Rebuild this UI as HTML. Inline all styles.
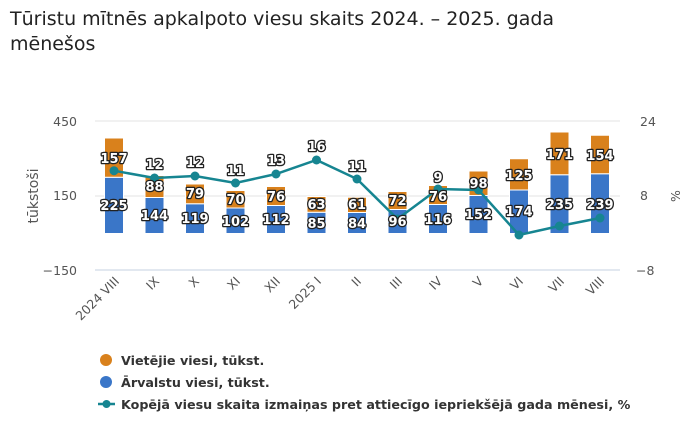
<!DOCTYPE html>
<html><head><meta charset="utf-8"><style>
body{margin:0;background:#fff;}
svg{display:block;font-family:"DejaVu Sans","Liberation Sans",sans-serif;}
.lb{font-weight:bold;font-size:13px;fill:#fff;stroke:#222;stroke-width:2.6px;paint-order:stroke;stroke-linejoin:round;text-anchor:middle;}
.ax{font-size:12.5px;fill:#555;}
</style></head><body>
<svg width="700" height="428" viewBox="0 0 700 428">
<text x="10" y="25" font-size="19" fill="#222">Tūristu mītnēs apkalpoto viesu skaits 2024. – 2025. gada</text>
<text x="10" y="50" font-size="19" fill="#222">mēnešos</text>
<line x1="95" x2="620" y1="121" y2="121" stroke="#e3e3e3"/>
<line x1="95" x2="620" y1="196" y2="196" stroke="#e3e3e3"/>
<line x1="95" x2="620" y1="270" y2="270" stroke="#c6d2e2"/>
<g class="ax" text-anchor="end"><text x="77" y="126">450</text><text x="77" y="200">150</text><text x="77" y="275">−150</text></g>
<g class="ax"><text x="640" y="126">24</text><text x="640" y="200">8</text><text x="636" y="275">−8</text></g>
<text transform="translate(38,196) rotate(-90)" class="ax" font-size="14" style="font-size:14px" text-anchor="middle">tūkstoši</text>
<text transform="translate(680,196) rotate(-90)" class="ax" text-anchor="middle">%</text>
<g stroke="#fff" stroke-width="1">
<g fill="#3a76c8">
<rect x="104.5" y="177.25" width="19" height="56.25"/><rect x="145" y="197.5" width="19" height="36"/><rect x="185.5" y="203.75" width="19" height="29.75"/><rect x="226" y="208" width="19" height="25.5"/><rect x="266.5" y="205.5" width="19" height="28"/><rect x="307" y="212.25" width="19" height="21.25"/><rect x="347.5" y="212.5" width="19" height="21"/><rect x="388" y="209.5" width="19" height="24"/><rect x="428.5" y="204.5" width="19" height="29"/><rect x="469" y="195.5" width="19" height="38"/><rect x="509.5" y="190" width="19" height="43.5"/><rect x="550" y="174.75" width="19" height="58.75"/><rect x="590.5" y="173.75" width="19" height="59.75"/>
</g>
<g fill="#d9811c">
<rect x="104.5" y="138" width="19" height="39.25"/><rect x="145" y="175.5" width="19" height="22"/><rect x="185.5" y="184" width="19" height="19.75"/><rect x="226" y="190.5" width="19" height="17.5"/><rect x="266.5" y="186.5" width="19" height="19"/><rect x="307" y="196.5" width="19" height="15.75"/><rect x="347.5" y="197.25" width="19" height="15.25"/><rect x="388" y="191.5" width="19" height="18"/><rect x="428.5" y="185.5" width="19" height="19"/><rect x="469" y="171" width="19" height="24.5"/><rect x="509.5" y="158.75" width="19" height="31.25"/><rect x="550" y="132" width="19" height="42.75"/><rect x="590.5" y="135.25" width="19" height="38.5"/>
</g></g>
<polyline fill="none" stroke="#168591" stroke-width="2.5" points="114,170.7 154.5,178 195,176 235.5,183 276,174 316.5,160 357,179 397.5,219 438,189 478.5,190 519,235 559.5,226 600,218"/>
<g fill="#168591">
<circle cx="114" cy="170.7" r="4.5"/><circle cx="154.5" cy="178" r="4.5"/><circle cx="195" cy="176" r="4.5"/><circle cx="235.5" cy="183" r="4.5"/><circle cx="276" cy="174" r="4.5"/><circle cx="316.5" cy="160" r="4.5"/><circle cx="357" cy="179" r="4.5"/><circle cx="397.5" cy="219" r="4.5"/><circle cx="438" cy="189" r="4.5"/><circle cx="478.5" cy="190" r="4.5"/><circle cx="519" cy="235" r="4.5"/><circle cx="559.5" cy="226" r="4.5"/><circle cx="600" cy="218" r="4.5"/>
</g>
<g class="lb">
<text x="114" y="210">225</text><text x="154.5" y="220">144</text><text x="195" y="223">119</text><text x="235.5" y="226">102</text><text x="276" y="224">112</text><text x="316.5" y="228">85</text><text x="357" y="228">84</text><text x="397.5" y="226">96</text><text x="438" y="224">116</text><text x="478.5" y="219">152</text><text x="519" y="216">174</text><text x="559.5" y="209">235</text><text x="600" y="209">239</text>
<text x="114" y="163">157</text><text x="154.5" y="191">88</text><text x="195" y="198">79</text><text x="235.5" y="204">70</text><text x="276" y="201">76</text><text x="316.5" y="209">63</text><text x="357" y="209">61</text><text x="397.5" y="205">72</text><text x="438" y="201">76</text><text x="478.5" y="188">98</text><text x="519" y="180">125</text><text x="559.5" y="159">171</text><text x="600" y="160">154</text>
<text x="154.5" y="169">12</text><text x="195" y="167">12</text><text x="235.5" y="175">11</text><text x="276" y="165">13</text><text x="316.5" y="151">16</text><text x="357" y="171">11</text><text x="438" y="182">9</text>
</g>
<g class="ax" text-anchor="end">
<text transform="translate(120,282) rotate(-45)">2024 VIII</text>
<text transform="translate(160,282) rotate(-45)">IX</text>
<text transform="translate(200,282) rotate(-45)">X</text>
<text transform="translate(241,282) rotate(-45)">XI</text>
<text transform="translate(281,282) rotate(-45)">XII</text>
<text transform="translate(322,282) rotate(-45)">2025 I</text>
<text transform="translate(362,282) rotate(-45)">II</text>
<text transform="translate(403,282) rotate(-45)">III</text>
<text transform="translate(443,282) rotate(-45)">IV</text>
<text transform="translate(484,282) rotate(-45)">V</text>
<text transform="translate(524,282) rotate(-45)">VI</text>
<text transform="translate(565,282) rotate(-45)">VII</text>
<text transform="translate(605,282) rotate(-45)">VIII</text>
</g>
<g font-size="12.7" font-weight="bold" fill="#333">
<circle cx="106" cy="360" r="6" fill="#d9811c"/><text x="121" y="365">Vietējie viesi, tūkst.</text>
<circle cx="106" cy="382" r="6" fill="#3a76c8"/><text x="121" y="387">Ārvalstu viesi, tūkst.</text>
<line x1="98" x2="115" y1="404" y2="404" stroke="#168591" stroke-width="2.5"/><circle cx="106.5" cy="404" r="4" fill="#168591"/><text x="121" y="409">Kopējā viesu skaita izmaiņas pret attiecīgo iepriekšējā gada mēnesi, %</text>
</g>
</svg>
</body></html>
